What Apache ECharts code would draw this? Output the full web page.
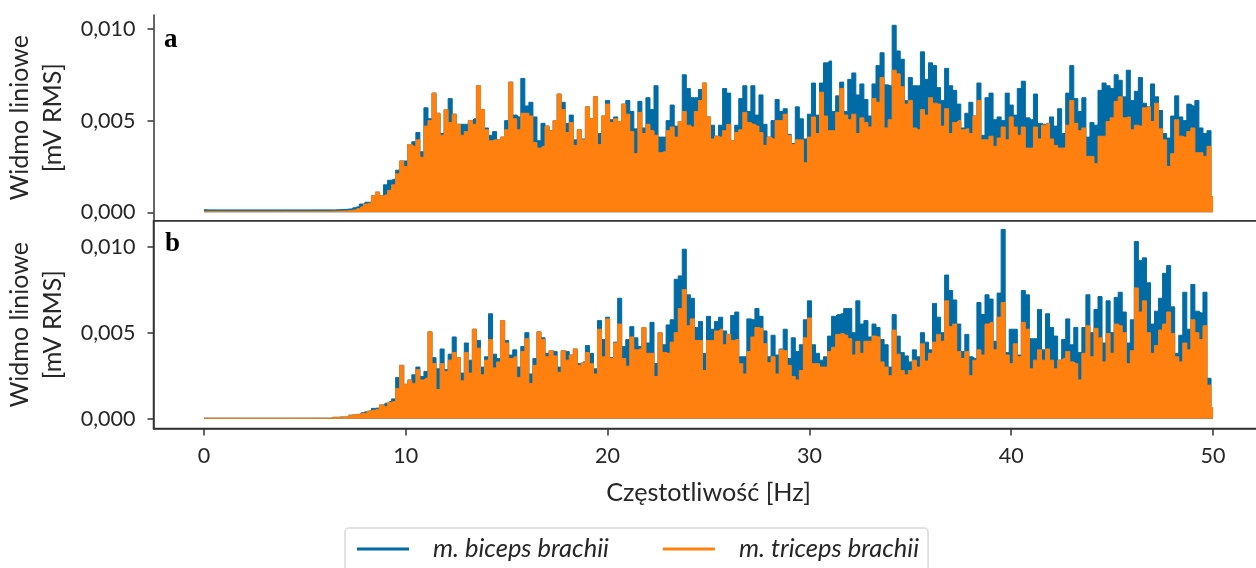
<!DOCTYPE html>
<html><head><meta charset="utf-8">
<style>html,body{margin:0;padding:0;background:#fff;overflow:hidden}#c{width:1256px;height:568px}</style>
<script src="https://cdn.jsdelivr.net/npm/echarts@6/dist/echarts.min.js"></script>
</head><body><div id="c"></div>
<script>
// Amplitudes in units of 0.001 mV RMS, one per 0.2 Hz bin from 0 to 50 Hz
const binHz = 0.2;
const xTicks = [0,10,20,30,40,50];
const yTicks = [0,0.005,0.01];
const bicepsA = [
.14,.13,.13,.13,.13,.13,.13,.13,.13,.13,.13,.13,.13,.13,.13,.13,.13,.13,.13,.13,.13,.13,.13,.13,.13,.13,.13,.13,.13,.13,.13,.13,
.13,.14,.15,.16,.18,.25,.3,.45,.55,.55,.9,1.1,.9,1.5,1.75,1.8,2.3,2.8,2.8,3.7,3.85,4.35,
3.3,5.7,5.1,6.5,5.4,4.3,5.6,6.2,5.35,4.8,4.8,4.8,5.0,5.1,6.9,5.6,4.6,4.2,4.4,3.95,4.1,5.0,7.1,5.3,5.2,7.3,5.8,6.0,5.2,3.9,4.85,4.7,4.45,5.0,6.45,6.0,4.85,5.3,3.95,4.5,4.0,5.75,5.1,6.3,4.3,5.25,6.1,5.05,5.2,4.95,5.9,6.1,5.5,4.55,6.05,4.6,6.25,5.6,6.9,4.1,4.1,5.0,5.85,4.7,4.95,7.5,6.75,6.25,6.25,6.7,7.05,5.2,4.75,4.15,4.75,6.75,6.5,3.9,4.75,6.2,6.9,5.5,6.9,5.3,6.4,4.8,4.1,5.0,6.15,5.5,5.65,4.25,3.75,5.75,5.1,4.0,5.35,7.05,5.3,7.05,8.15,8.25,5.5,6.35,
7.1,5.5,7.25,7.6,6.4,7.0,6.15,5.25,7.0,8.0,8.7,6.95,6.9,10.2,8.8,8.35,6.1,7.35,6.9,6.9,8.75,7.25,8.15,8.0,6.8,6.1,7.85,6.9,6.65,5.9,4.6,5.4,6.0,5.25,7.05,4.2,6.25,6.5,5.05,5.2,5.0,6.5,5.85,5.3,6.75,7.15,5.15,5.05,6.45,4.85,4.8,4.85,5.2,4.7,5.65,4.3,6.5,8.0,6.2,5.5,6.25,4.1,4.9,4.75,6.65,7.05,6.9,6.75,7.5,7.2,6.3,7.75,6.1,6.6,7.35,5.95,5.75,7.0,6.3,5.55,4.3,4.05,5.25,6.35,5.2,5.0,5.9,5.8,6.1,4.6,4.3,4.45,.85
];
const tricepsA = [
.05,.05,.05,.05,.05,.05,.05,.05,.05,.05,.05,.05,.05,.05,.05,.05,.05,.05,.05,.05,.05,.05,.05,.05,.05,.05,.05,.05,.05,.05,.05,.05,
.06,.06,.07,.07,.09,.12,.2,.3,.45,.5,.9,1.1,.9,.95,1.2,1.5,2.1,2.8,2.5,3.7,3.6,3.95,
3.0,4.7,5.0,6.5,5.4,4.2,5.6,4.9,5.35,4.8,4.2,4.4,5.0,4.8,6.9,5.6,4.5,3.9,3.95,3.95,4.1,4.5,7.1,5.1,4.5,5.4,5.4,5.25,3.8,3.5,3.6,4.7,4.45,5.0,6.45,5.6,4.35,4.9,3.65,4.5,3.95,5.75,5.1,6.3,3.7,5.25,5.9,4.9,5.1,4.95,5.9,5.35,4.4,3.2,5.45,4.3,4.8,4.45,4.2,3.25,3.3,4.45,4.65,4.1,4.95,5.5,4.75,4.65,5.5,6.1,7.05,5.2,4.0,4.15,4.1,4.45,4.8,3.9,4.35,4.5,5.45,4.9,4.8,4.7,4.35,3.65,4.1,4.0,5.0,5.0,5.35,4.2,3.7,3.95,3.95,2.7,4.1,5.2,4.3,6.55,5.25,4.45,4.45,5.45,
6.75,5.3,5.05,5.35,4.3,5.15,4.9,4.65,6.2,6.0,7.35,4.6,5.05,7.75,7.55,6.85,5.9,6.1,4.6,4.5,5.6,5.3,6.25,5.95,5.9,4.7,5.65,4.3,4.9,5.0,4.5,4.55,4.3,5.25,6.1,3.95,3.95,4.15,3.6,4.05,4.65,3.95,5.2,4.65,4.2,4.65,3.5,3.5,4.65,4.0,4.75,4.85,4.0,3.65,3.5,3.5,4.75,6.1,4.85,4.45,4.6,3.05,3.05,2.65,4.15,4.15,4.95,5.15,6.05,6.3,5.15,5.2,4.5,4.75,4.7,5.7,5.75,4.95,5.95,4.55,3.95,2.5,3.2,5.05,4.15,4.1,4.4,4.6,3.25,3.25,3.05,3.6,.85
];
const bicepsB = [
.03,.03,.03,.03,.03,.03,.03,.03,.03,.03,.03,.03,.03,.03,.03,.03,.03,.03,.03,.03,.03,.03,.03,.03,.03,.03,.03,.03,.03,.03,.03,.03,
.08,.08,.1,.1,.2,.22,.25,.35,.4,.45,.6,.62,.8,.9,1.0,1.15,2.4,3.1,2.0,2.25,2.55,3.0,
2.45,2.75,5.05,3.55,2.9,4.05,2.85,3.75,4.75,3.55,2.65,4.4,3.4,5.2,4.55,3.0,3.6,6.1,3.75,3.5,5.7,4.55,3.7,4.0,3.0,4.2,5.0,2.6,3.5,5.05,4.7,3.8,3.95,3.9,3.0,3.95,3.9,3.7,4.05,3.2,3.3,4.25,3.8,2.9,5.7,4.6,5.9,3.55,4.45,7.0,4.2,4.6,5.35,4.7,4.2,5.3,4.4,5.6,3.2,5.0,4.3,5.45,5.75,8.1,8.3,9.85,7.2,7.0,5.3,5.65,3.8,5.95,5.2,5.65,5.9,5.1,4.9,6.0,6.2,3.6,3.6,5.8,5.75,6.4,5.95,5.1,3.6,4.85,3.7,4.05,5.2,3.5,4.7,3.9,4.3,5.75,6.85,4.3,3.8,3.4,3.6,4.8,5.95,6.05,
6.1,6.4,6.4,5.0,6.85,5.5,5.7,4.75,5.5,5.3,4.6,4.3,3.0,6.05,4.8,3.85,3.65,3.3,4.0,3.6,5.0,4.45,4.0,6.7,5.9,5.0,8.35,7.45,6.9,5.5,3.9,4.9,3.6,3.5,6.75,6.05,7.2,6.95,4.5,7.3,11.0,3.85,5.2,5.2,3.7,7.45,7.2,4.65,4.65,6.35,4.0,6.1,5.3,4.8,3.4,4.6,5.8,4.3,5.3,3.85,5.3,7.2,5.0,6.35,7.1,4.4,6.85,5.0,7.05,7.35,6.2,4.4,5.75,10.3,9.2,9.35,7.9,5.5,6.25,7.0,8.45,8.9,6.5,3.8,4.85,7.35,5.2,7.8,6.25,6.15,7.35,2.35,.65
];
const tricepsB = [
.03,.03,.03,.03,.03,.03,.03,.03,.03,.03,.03,.03,.03,.03,.03,.03,.03,.03,.03,.03,.03,.03,.03,.03,.03,.03,.03,.03,.03,.03,.03,.03,
.08,.08,.1,.1,.2,.22,.25,.3,.32,.45,.5,.55,.8,.7,.95,1.0,1.75,3.1,2.0,2.25,2.05,2.85,
2.25,2.35,5.05,3.2,1.7,3.2,2.75,3.4,3.85,3.55,2.2,3.85,2.65,5.2,4.1,2.55,3.4,4.6,2.95,3.3,5.7,4.4,3.5,3.6,2.4,3.9,4.65,2.05,3.1,5.05,4.6,3.6,3.95,3.65,2.7,3.95,3.4,3.7,4.05,3.1,3.25,3.85,3.2,2.6,5.2,3.6,5.8,3.5,4.4,5.5,3.5,3.05,4.75,4.0,4.05,5.3,3.8,3.8,2.45,5.0,3.85,3.8,4.45,5.0,6.4,7.5,5.4,5.8,4.55,4.55,2.8,4.55,4.55,5.1,5.2,4.3,4.9,4.55,4.6,3.2,2.6,3.9,4.75,5.3,5.25,4.35,3.25,3.6,2.6,4.0,3.95,3.1,2.45,2.25,2.8,4.7,5.85,3.2,3.2,3.0,3.0,3.9,4.15,4.9,
4.95,4.85,4.65,3.7,4.5,3.8,4.5,4.5,4.8,4.75,3.3,3.0,2.5,5.15,3.75,2.8,2.55,2.8,3.4,3.0,4.35,3.35,3.8,4.45,4.9,4.5,6.85,5.35,5.5,3.9,3.5,3.9,2.5,3.4,4.0,3.7,5.5,5.6,4.0,5.9,6.75,3.7,3.2,4.35,3.6,5.6,5.2,2.9,3.4,4.0,3.4,4.05,3.4,2.9,3.4,3.5,3.9,3.3,3.2,2.25,3.8,5.4,3.6,5.25,4.7,3.3,4.95,3.8,5.5,5.4,5.0,3.2,3.95,7.6,6.2,6.85,5.0,3.8,4.25,5.15,5.5,6.2,4.95,3.6,3.3,4.4,4.0,5.75,5.0,4.6,5.4,1.95,.65
];
const seriesNames = ['m. biceps brachii','m. triceps brachii'];
const colors = ['#006BA4','#FF800E'];
const ink = '#262626', spine = '#333333', fontFamily = 'Lato';

const toPairs = arr => arr.map((v,i) => [+(i*binHz).toFixed(1), v/1000]);
const mk = (name,color,arr,idx,z) => ({
  name, type:'line', step:'middle', xAxisIndex:idx, yAxisIndex:idx, data:toPairs(arr), z,
  showSymbol:false, symbol:'none', animation:false,
  lineStyle:{color,width:1}, itemStyle:{color}, areaStyle:{color,opacity:1}
});
const yAxis = (idx,min,max) => ({
  gridIndex:idx, type:'value', min, max, splitLine:{show:false},
  name:'Widmo liniowe\n[mV RMS]', nameLocation:'middle', nameRotate:90, nameGap:84, nameMoveOverlap:false,
  nameTextStyle:{color:ink,fontSize:25,fontFamily,lineHeight:33},
  axisLine:{show:true,onZero:false,lineStyle:{color:spine,width:1.5}},
  axisTick:{show:true,length:6,customValues:yTicks,lineStyle:{color:spine,width:1.5}},
  axisLabel:{color:ink,fontSize:21.5,fontFamily,margin:18,customValues:yTicks,
    formatter:v=>v.toFixed(3).replace('.',',')}
});
const chart = echarts.init(document.getElementById('c'),null,{renderer:'canvas'});
chart.setOption({
  animation:false, backgroundColor:'#fff',
  grid:[
    {left:153.5,top:15,width:1110,height:205.5,show:false,outerBoundsMode:'none'},
    {left:153.5,top:221,width:1110,height:207.5,show:true,borderColor:spine,borderWidth:1.5,backgroundColor:'transparent',outerBoundsMode:'none'}
  ],
  title:[
    {text:'a',left:164,top:27,padding:0,textStyle:{color:'#000',fontFamily:'Liberation Serif',fontWeight:'bold',fontSize:27}},
    {text:'b',left:165,top:231,padding:0,textStyle:{color:'#000',fontFamily:'Liberation Serif',fontWeight:'bold',fontSize:27}}
  ],
  xAxis:[
    {gridIndex:0,type:'value',min:-2.5,max:52.5,splitLine:{show:false},
      axisLine:{show:true,onZero:false,lineStyle:{color:spine,width:1}},axisTick:{show:false},axisLabel:{show:false}},
    {gridIndex:1,type:'value',min:-2.5,max:52.5,splitLine:{show:false},
      name:'Częstotliwość [Hz]',nameLocation:'middle',nameGap:52,nameMoveOverlap:false,
      nameTextStyle:{color:ink,fontSize:25.2,fontFamily},
      axisLine:{show:true,onZero:false,lineStyle:{color:spine,width:1.5}},
      axisTick:{show:true,length:7,customValues:xTicks,lineStyle:{color:spine,width:1.5}},
      axisLabel:{color:ink,fontSize:21.5,fontFamily,margin:17,customValues:xTicks,formatter:v=>String(v)}}
  ],
  yAxis:[yAxis(0,-0.000447,0.01076),yAxis(1,-0.00057,0.01149)],
  legend:{
    data:seriesNames, left:345, top:528, orient:'horizontal',
    icon:'rect', itemWidth:52, itemHeight:3, itemGap:54,
    padding:[8,9,20,12], borderColor:'#d9d9d9', borderWidth:1.5, borderRadius:4, backgroundColor:'#fff',
    textStyle:{color:ink,fontSize:25.5,fontFamily,fontStyle:'italic',padding:[0,0,0,19],lineHeight:26}
  },
  series:[
    mk(seriesNames[0],colors[0],bicepsA,0,2),
    mk(seriesNames[1],colors[1],tricepsA,0,3),
    mk(seriesNames[0],colors[0],bicepsB,1,2),
    mk(seriesNames[1],colors[1],tricepsB,1,3)
  ]
});
</script></body></html>
